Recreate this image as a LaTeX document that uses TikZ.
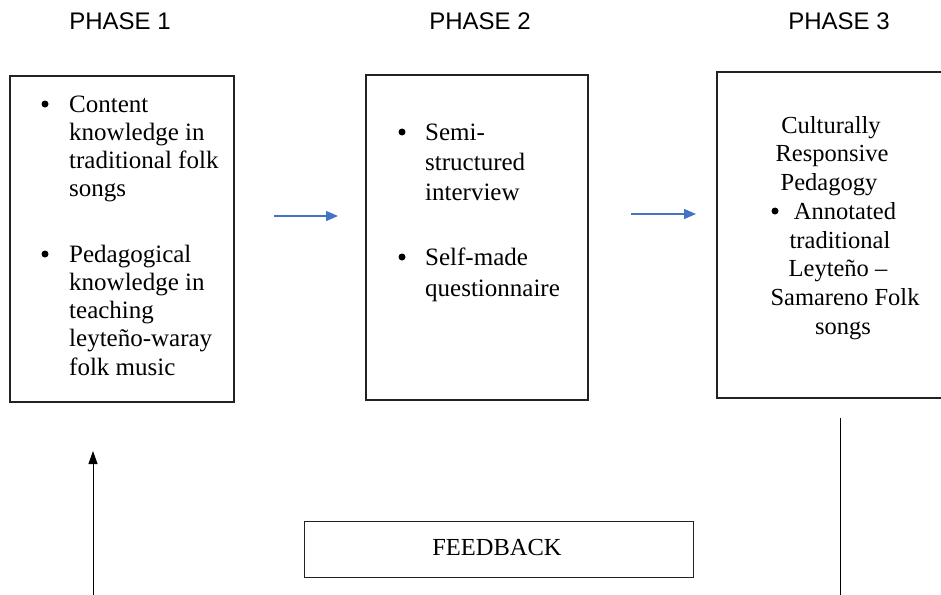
\documentclass[tikz,border=0pt]{standalone}
\usepackage{fontspec}
\setmainfont{Liberation Serif}
\newfontfamily\headfont{Liberation Sans}
\usetikzlibrary{arrows.meta}
\definecolor{flowblue}{HTML}{4472C4}
\definecolor{boxline}{HTML}{222222}
\begin{document}
\begin{tikzpicture}[x=1pt,y=-1pt,
  phasebox/.style={draw=boxline,line width=1.2pt,inner sep=0pt},
  head/.style={font=\headfont\fontsize{24}{28}\selectfont,anchor=base,inner sep=0pt},
  txt/.style={font=\rmfamily\fontsize{25}{28}\selectfont,anchor=base west,inner sep=0pt},
  ctxt/.style={font=\rmfamily\fontsize{24.5}{28}\selectfont,anchor=base,inner sep=0pt},
  dot/.style={circle,fill=black,inner sep=0pt,minimum size=7pt},
  flow/.style={draw=flowblue,line width=1.3pt,-{Triangle[length=12pt,width=10pt]}},
  loop/.style={draw=black,line width=1pt}
]
\useasboundingbox (0,0) rectangle (941,594);

% phase headings
\node[head] (h1) at (120,30) {PHASE 1};
\node[head] (h2) at (480,30) {PHASE 2};
\node[head] (h3) at (839,30) {PHASE 3};

% phase boxes
\draw[phasebox] (10,76) rectangle (234,402);
\draw[phasebox] (366,75) rectangle (588,400);
\draw[phasebox] (717,72) rectangle (945,398);

% phase 1 contents
\node[dot] (d11) at (45,104) {};
\foreach \t [count=\i] in {Content,knowledge in,traditional folk,songs}
  \node[txt] (a\i) at (69,{112+28.2*(\i-1)}) {\t};
\node[dot] (d12) at (45,254) {};
\foreach \t [count=\i] in {Pedagogical,knowledge in,teaching,leyteño-waray,folk music}
  \node[txt] (b\i) at (69,{262+28.3*(\i-1)}) {\t};

% phase 2 contents
\node[dot] (d21) at (402,132) {};
\foreach \t [count=\i] in {Semi-,structured,interview}
  \node[txt] (c\i) at (425,{140+30*(\i-1)}) {\t};
\node[dot] (d22) at (402,257) {};
\foreach \t [count=\i] in {Self-made,questionnaire}
  \node[txt] (e\i) at (425,{265+31*(\i-1)}) {\t};

% phase 3 contents
\node[ctxt] (f1) at (831,133) {Culturally};
\node[ctxt] (f2) at (832,161) {Responsive};
\node[ctxt] (f3) at (829,190) {Pedagogy};
\node[dot] (d31) at (775,211) {};
\node[ctxt] (f4) at (845,219) {Annotated};
\node[ctxt] (f5) at (840,248) {traditional};
\node[ctxt] (f6) at (838,276) {Leyteño –};
\node[ctxt] (f7) at (845,305) {Samareno Folk};
\node[ctxt] (f8) at (843,334) {songs};

% feedback box
\node[phasebox,minimum width=389pt,minimum height=56pt,anchor=north west] (fb) at (304,521) {};
\node[ctxt] (fbt) at (497,555) {FEEDBACK};

% forward arrows
\coordinate (a1s) at (274,216);
\coordinate (a1e) at (338,216);
\coordinate (a2s) at (631,214);
\coordinate (a2e) at (696,214);
\draw[flow] (a1s) -- (a1e);
\draw[flow] (a2s) -- (a2e);

% feedback loop lines
\coordinate (u0) at (93,596);
\coordinate (u1) at (93,451);
\draw[loop,-{Triangle[length=13pt,width=9pt]}] (u0) -- (u1);
\coordinate (v0) at (840,418);
\coordinate (v1) at (840,596);
\draw[loop,line width=0.8pt] (v0) -- (v1);
\end{tikzpicture}
\end{document}
